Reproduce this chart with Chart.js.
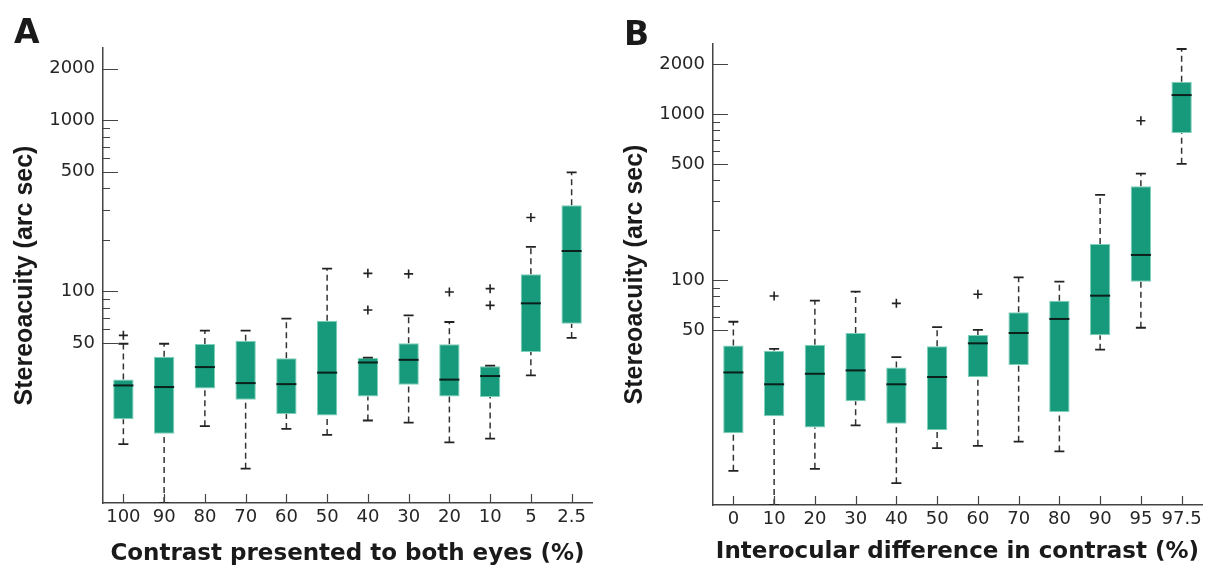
<!DOCTYPE html>
<html>
<head>
<meta charset="utf-8">
<script src="https://cdn.jsdelivr.net/npm/chart.js@4/dist/chart.umd.min.js"></script>
<style>
  html, body { margin: 0; padding: 0; background: #fff; }
  #wrap { position: relative; width: 1223px; height: 570px; overflow: hidden; }
  canvas { position: absolute; top: 0; }
  #chartA { left: 0; }
  #chartB { left: 610px; }
  .panel { position: absolute; font-family: "DejaVu Sans", sans-serif; font-weight: bold; font-size: 33px; color: #1a1a1a; line-height: 1; }
</style>
</head>
<body>
<div id="wrap">
  <canvas id="chartA" width="610" height="570"></canvas>
  <canvas id="chartB" width="613" height="570"></canvas>
  <div class="panel" style="left:14px; top:15px;">A</div>
  <div class="panel" style="left:624px; top:17px;">B</div>
</div>
<script>
// tick labels / tick marks on the log axis
var yLabelValues = [50, 100, 500, 1000, 2000];
var yMinorValues = [60, 70, 80, 90, 200, 300, 400, 600, 700, 800, 900];

// A: contrast presented to both eyes
var catsA = ['100', '90', '80', '70', '60', '50', '40', '30', '20', '10', '5', '2.5'];
var lowA = [12.8, 5.8, 16.3, 9.2, 15.7, 14.5, 17.6, 17.1, 13.1, 13.8, 32.3, 53.4];
var q1A = [17.9, 14.7, 27.1, 23.3, 19.2, 18.8, 24.3, 28.5, 24.3, 24.1, 44.2, 64.7];
var medA = [28.2, 27.6, 36.1, 29.1, 28.7, 33.5, 38.4, 39.8, 30.5, 32.0, 85.1, 172];
var q3A = [30.5, 41.5, 49.3, 51.5, 40.6, 67.4, 40.8, 49.7, 49.0, 36.5, 125.7, 318];
var highA = [49.4, 49.4, 58.9, 58.9, 69.2, 135.8, 41.0, 72.4, 66.2, 36.8, 181.9, 496];
var outA = [[55.3], [], [], [], [], [], [127.4, 77.8], [126.4], [99.2], [103.7, 82.8], [270], []];

// B: interocular difference in contrast
var catsB = ['0', '10', '20', '30', '40', '50', '60', '70', '80', '90', '95', '97.5'];
var lowB = [7.07, 4.4, 7.27, 13.3, 5.96, 9.7, 10.0, 10.6, 9.25, 38, 51.5, 501];
var q1B = [11.9, 15.1, 12.9, 18.6, 13.6, 12.4, 25.9, 30.7, 16.0, 46.4, 97.7, 768];
var medB = [27.7, 23.5, 27.2, 28.5, 23.5, 26.0, 41.5, 47.9, 58.2, 80.4, 141.5, 1302];
var q3B = [40.2, 37.4, 40.7, 47.9, 29.7, 39.8, 46.6, 63.8, 75.0, 165, 367, 1567];
var highB = [56, 38.4, 75, 85, 34.3, 52, 50, 103.8, 97.7, 326, 438, 2467];
var outB = [[], [80], [], [], [72.3], [], [82], [], [], [], [911], []];

var TXT = '#262626';
var AXIS = '#444';
var BOX = '#169a7b';

// inward tick marks, placed with the chart's own scales
var innerTicks = {
  id: 'innerTicks',
  afterDraw: function(chart) {
    var ctx = chart.ctx, a = chart.chartArea, x = chart.scales.x, y = chart.scales.y;
    ctx.save();
    ctx.strokeStyle = AXIS;
    ctx.lineWidth = 1.2;
    ctx.beginPath();
    yLabelValues.forEach(function(v) {
      var p = Math.round(y.getPixelForValue(v)) + 0.5;
      ctx.moveTo(a.left, p); ctx.lineTo(a.left + 15, p);
    });
    yMinorValues.forEach(function(v) {
      var p = Math.round(y.getPixelForValue(v)) + 0.5;
      ctx.moveTo(a.left, p); ctx.lineTo(a.left + 7, p);
    });
    x.ticks.forEach(function(t, i) {
      var p = Math.round(x.getPixelForTick(i)) + 0.5;
      ctx.moveTo(p, a.bottom); ctx.lineTo(p, a.bottom - 9);
    });
    ctx.stroke();
    ctx.restore();
  }
};

function makeBox(id, cats, low, q1, med, q3, high, outs, opt) {
  var whisk = [], caps = [], meds = [], pts = [];
  cats.forEach(function(c, i) {
    whisk.push({x: c, y: low[i]}, {x: c, y: q1[i]}, {x: c, y: null});
    whisk.push({x: c, y: q3[i]}, {x: c, y: high[i]}, {x: c, y: null});
    caps.push({x: c, y: low[i]}, {x: c, y: high[i]});
    meds.push({x: c, y: med[i]});
    outs[i].forEach(function(v) { pts.push({x: c, y: v}); });
  });

  return new Chart(document.getElementById(id), {
    type: 'bar',
    data: {
      labels: cats,
      datasets: [
        {
          type: 'line', data: whisk, order: 4,
          borderColor: '#333', borderWidth: 1.5, borderDash: [6, 4],
          pointRadius: 0, spanGaps: false, fill: false
        },
        {
          type: 'bar', data: q1.map(function(v, i) { return [v, q3[i]]; }), order: 3,
          backgroundColor: BOX, borderColor: '#7fd0bb', borderWidth: 1, borderSkipped: false,
          barPercentage: 0.5, categoryPercentage: 1
        },
        {
          type: 'line', data: caps, order: 2, showLine: false,
          pointStyle: 'line', pointRadius: 5, pointBorderWidth: 1.8, pointBorderColor: '#222'
        },
        {
          type: 'line', data: meds, order: 1, showLine: false,
          pointStyle: 'line', pointRadius: 10, pointBorderWidth: 2, pointBorderColor: '#0b1f1b'
        },
        {
          type: 'line', data: pts, order: 1, showLine: false,
          pointStyle: 'cross', pointRadius: 4.5, pointBorderWidth: 1.6, pointBorderColor: '#222'
        }
      ]
    },
    options: {
      responsive: false,
      animation: false,
      events: [],
      layout: { padding: { top: opt.top, right: opt.right, left: 0, bottom: 0 } },
      plugins: { legend: { display: false }, tooltip: { enabled: false } },
      scales: {
        x: {
          type: 'category', offset: true,
          grid: { display: false, drawTicks: false },
          border: { color: AXIS, width: 1.5 },
          ticks: {
            color: TXT, padding: 4, maxRotation: 0, minRotation: 0, autoSkip: false,
            font: { family: 'DejaVu Sans', size: 18 }
          },
          title: {
            display: true, text: opt.xTitle, color: '#1a1a1a',
            font: { family: 'DejaVu Sans', size: 23, weight: 'bold' },
            padding: { top: 0, bottom: opt.titlePad }
          },
          afterFit: function(s) { s.height = opt.xHeight; }
        },
        y: {
          type: 'logarithmic', min: opt.min, max: opt.max,
          grid: { display: false, drawTicks: false },
          border: { color: AXIS, width: 1.5 },
          afterBuildTicks: function(s) { s.ticks = yLabelValues.map(function(v) { return {value: v}; }); },
          ticks: {
            color: TXT, padding: 8, font: { family: 'DejaVu Sans', size: 18 },
            callback: function(v) { return String(v); }
          },
          title: {
            display: true, text: 'Stereoacuity (arc sec)', color: '#1a1a1a',
            font: { family: 'Liberation Sans', size: 25, weight: 'bold' },
            padding: { top: 10, bottom: 0 }
          },
          afterFit: function(s) { s.width = 103; }
        }
      }
    },
    plugins: [innerTicks]
  });
}

makeBox('chartA', catsA, lowA, q1A, medA, q3A, highA, outA,
  { top: 48, right: 18, xHeight: 67, min: 5.8, max: 2640, titlePad: 2,
    xTitle: 'Contrast presented to both eyes (%)' });
makeBox('chartB', catsB, lowB, q1B, medB, q3B, highB, outB,
  { top: 44, right: 21, xHeight: 65, min: 4.4, max: 2645, titlePad: 4,
    xTitle: 'Interocular difference in contrast (%)' });
</script>
</body>
</html>
